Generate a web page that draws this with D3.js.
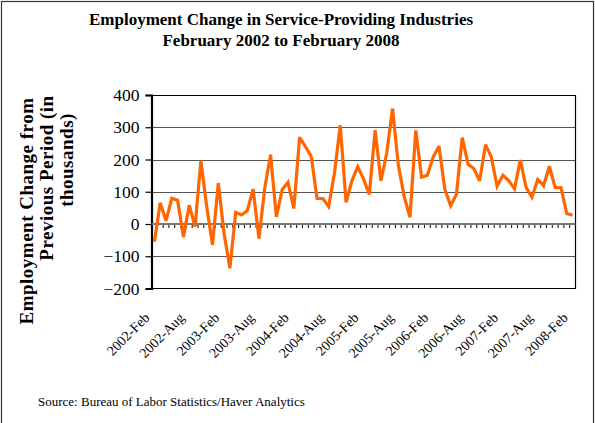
<!DOCTYPE html>
<html>
<head>
<meta charset="utf-8">
<script src="https://cdn.jsdelivr.net/npm/d3@7"></script>
<style>
  html, body { margin: 0; padding: 0; background: #fff; }
  svg { display: block; }
  text { font-family: "Liberation Serif", "Times New Roman", serif; fill: #000; }
</style>
</head>
<body>
<svg id="chart" width="595" height="423"></svg>
<script>
// Monthly change in service-providing employment, thousands (Feb 2002 .. Feb 2008)
const startYear = 2002;
const startMonth = 1; // February, zero-based
const changes = [
  -55, 66, 10, 80, 74, -40, 58, -8, 196, 55, -65, 127,
  -30, -137, 36, 28, 42, 108, -45, 112, 215, 22, 107, 129,
  48, 269, 240, 210, 79, 79, 54, 158, 306, 67, 134, 178,
  140, 92, 291, 134, 220, 358, 182, 86, 21, 290, 145, 151,
  208, 241, 108, 57, 92, 268, 185, 172, 134, 246, 208, 117,
  151, 135, 109, 198, 113, 83, 138, 119, 179, 113, 113, 32,
  28
];
const monthNames = ["Jan","Feb","Mar","Apr","May","Jun","Jul","Aug","Sep","Oct","Nov","Dec"];
const months = changes.map((_, i) => {
  const m = startMonth + i;
  return (startYear + Math.floor(m / 12)) + "-" + monthNames[m % 12];
});
const yTicks = [-200, -100, 0, 100, 200, 300, 400];
const labelEvery = 6;

const titleLines = ["Employment Change in Service-Providing Industries", "February 2002 to February 2008"];
const yTitleLines = ["Employment Change from", "Previous Period (in", "thousands)"];
const sourceText = "Source: Bureau of Labor Statistics/Haver Analytics";

const svg = d3.select("#chart");
const W = 595, H = 423;
const plot = { left: 151.5, right: 575.5, top: 95, bottom: 288.5 };

// outer frame
svg.append("rect")
  .attr("x", 1.5).attr("y", 1.5)
  .attr("width", W - 3).attr("height", H + 10)
  .attr("fill", "none").attr("stroke", "#333").attr("stroke-width", 1.2);

const x = d3.scaleBand().domain(months).range([plot.left, plot.right]).paddingInner(0).paddingOuter(0);
const y = d3.scaleLinear().domain([-200, 400]).range([plot.bottom, plot.top]);

// horizontal gridlines
svg.append("g").selectAll("line")
  .data(yTicks.filter(v => v !== 0 && v !== -200 && v !== 400))
  .join("line")
  .attr("x1", plot.left).attr("x2", plot.right)
  .attr("y1", d => Math.round(y(d)) + 0.5).attr("y2", d => Math.round(y(d)) + 0.5)
  .attr("stroke", "#555").attr("stroke-width", 1);

// plot-area border (top, right, bottom)
svg.append("path")
  .attr("d", `M${plot.left},${Math.round(plot.top)+0.5}H${plot.right}V${plot.bottom}H${plot.left}`)
  .attr("fill", "none").attr("stroke", "#000").attr("stroke-width", 1.2);

// y axis
const yAxis = d3.axisLeft(y).tickValues(yTicks).tickSize(6).tickPadding(6).tickFormat(d3.format("d"));
const gy = svg.append("g").attr("transform", `translate(${plot.left},0)`).call(yAxis);
gy.select(".domain").attr("stroke", "#000").attr("stroke-width", 2.2);
gy.selectAll(".tick line").attr("stroke", "#000").attr("stroke-width", 1.2);
gy.selectAll(".tick text")
  .style("font-family", "'Liberation Serif', serif")
  .style("font-size", "17.5px").attr("fill", "#000");

// category axis crossing at zero, ticks between months
const boundaries = d3.range(months.length + 1).map(i => plot.left + i * x.bandwidth());
const gz = svg.append("g");
gz.selectAll("line.tk").data(boundaries).join("line")
  .attr("class", "tk")
  .attr("x1", d => d).attr("x2", d => d)
  .attr("y1", y(0)).attr("y2", y(0) + 4)
  .attr("stroke", "#000").attr("stroke-width", 1);
gz.append("line")
  .attr("x1", plot.left).attr("x2", plot.right)
  .attr("y1", y(0)).attr("y2", y(0))
  .attr("stroke", "#777").attr("stroke-width", 2.2);

// category labels at the bottom, rotated
const labelIdx = d3.range(0, months.length, labelEvery);
svg.append("g").selectAll("text").data(labelIdx).join("text")
  .attr("transform", i => `translate(${x(months[i]) + x.bandwidth() / 2 - 4},${plot.bottom + 30}) rotate(-45)`)
  .attr("text-anchor", "end")
  .style("font-size", "14px")
  .text(i => months[i]);

// data line
const line = d3.line()
  .x((d, i) => x(months[i]) + x.bandwidth() / 2)
  .y(d => y(d));
svg.append("path")
  .datum(changes)
  .attr("d", line)
  .attr("fill", "none")
  .attr("stroke", "#FF6600")
  .attr("stroke-width", 3.2)
  .attr("stroke-linejoin", "miter")
  .attr("stroke-miterlimit", 3);

// title
svg.append("g").selectAll("text").data(titleLines).join("text")
  .attr("x", 281).attr("y", (d, i) => 25 + i * 21)
  .attr("text-anchor", "middle")
  .style("font-size", "17px").style("font-weight", "bold")
  .text(d => d);

// y axis title: three wrapped lines
const yTitleCenters = [211, 178, 160];
svg.append("g").selectAll("text").data(yTitleLines).join("text")
  .attr("transform", (d, i) => `translate(${33 + i * 20},${yTitleCenters[i]}) rotate(-90)`)
  .attr("text-anchor", "middle")
  .style("font-size", "19px").style("font-weight", "bold")
  .style("letter-spacing", "0.5px")
  .text(d => d);

// source note
svg.append("text")
  .attr("x", 38).attr("y", 406)
  .style("font-size", "13px")
  .text(sourceText);
</script>
</body>
</html>
